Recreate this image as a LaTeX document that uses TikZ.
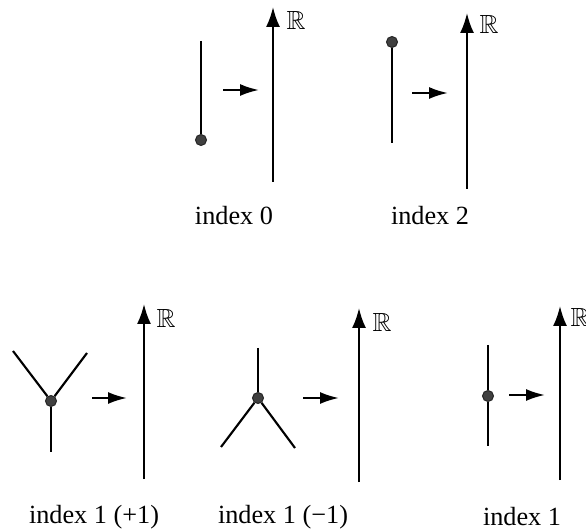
\documentclass[tikz,border=0pt]{standalone}
\usepackage{amsmath,amssymb}
\usepackage{fontspec}
\setmainfont{Liberation Serif}
\usetikzlibrary{arrows.meta, positioning}

\tikzset{
    seg/.style={line width=0.85pt},
    crit/.style={circle, draw=black!85, fill=black!75, line width=0.4pt, inner sep=0pt, minimum size=4.4pt},
    maparrow/.style={line width=0.85pt, -{Latex[length=7.6pt, width=4.8pt]}},
    realline/.style={line width=0.85pt, -{Latex[length=8pt, width=5.6pt]}},
    caption/.style={anchor=base},
}

\begin{document}
\begin{tikzpicture}[x=0.4pt, y=-0.4pt, font=\fontsize{10.5}{12}\selectfont]
    \useasboundingbox (0,0) rectangle (586,531);

    % index 0: minimum
    \coordinate (min top) at (201,41);
    \node (min crit) [crit] at (201,140) {};
    \draw[seg] (min top) -- (min crit);
    \coordinate (min from) at (223,90);
    \coordinate (min to) at (259,90);
    \draw[maparrow] (min from) -- (min to);
    \coordinate (min base) at (273,182);
    \coordinate (min tip) at (273,7);
    \draw[realline] (min base) -- (min tip);
    \node (min R) at (296,20) {$\mathbb{R}$};
    \node (min lab) [caption] at (234,225) {index 0};

    % index 2: maximum
    \node (max crit) [crit] at (392,42) {};
    \coordinate (max bot) at (392,143);
    \draw[seg] (max crit) -- (max bot);
    \coordinate (max from) at (412,93);
    \coordinate (max to) at (448,93);
    \draw[maparrow] (max from) -- (max to);
    \coordinate (max base) at (467,189);
    \coordinate (max tip) at (467,13);
    \draw[realline] (max base) -- (max tip);
    \node (max R) at (489,24) {$\mathbb{R}$};
    \node (max lab) [caption] at (430,225) {index 2};

    % index 1 (+1): merging
    \coordinate (plus ul) at (13,351);
    \coordinate (plus ur) at (87,353);
    \coordinate (plus bot) at (51,452);
    \node (plus crit) [crit] at (51,401) {};
    \draw[seg] (plus ul) -- (plus crit) -- (plus ur);
    \draw[seg] (plus crit) -- (plus bot);
    \coordinate (plus from) at (92,398);
    \coordinate (plus to) at (127,398);
    \draw[maparrow] (plus from) -- (plus to);
    \coordinate (plus base) at (144,479);
    \coordinate (plus tip) at (144,304);
    \draw[realline] (plus base) -- (plus tip);
    \node (plus R) at (166,318) {$\mathbb{R}$};
    \node (plus lab) [caption] at (94,523) {index 1 (+1)};

    % index 1 (-1): splitting
    \coordinate (minus top) at (258,348);
    \coordinate (minus ll) at (221,447);
    \coordinate (minus lr) at (295,448);
    \node (minus crit) [crit] at (258,398) {};
    \draw[seg] (minus ll) -- (minus crit) -- (minus lr);
    \draw[seg] (minus top) -- (minus crit);
    \coordinate (minus from) at (303,398);
    \coordinate (minus to) at (339,398);
    \draw[maparrow] (minus from) -- (minus to);
    \coordinate (minus base) at (359,482);
    \coordinate (minus tip) at (359,308);
    \draw[realline] (minus base) -- (minus tip);
    \node (minus R) at (382,322) {$\mathbb{R}$};
    \node (minus lab) [caption] at (283,523) {index 1 (−1)};

    % index 1: regular point of the graph
    \coordinate (reg top) at (488,345);
    \coordinate (reg bot) at (488,446);
    \node (reg crit) [crit] at (488,396) {};
    \draw[seg] (reg top) -- (reg crit) -- (reg bot);
    \coordinate (reg from) at (509,395);
    \coordinate (reg to) at (545,395);
    \draw[maparrow] (reg from) -- (reg to);
    \coordinate (reg base) at (560,480);
    \coordinate (reg tip) at (560,306);
    \draw[realline] (reg base) -- (reg tip);
    \node (reg R) at (580,317) {$\mathbb{R}$};
    \node (reg lab) [caption] at (522,525) {index 1};
\end{tikzpicture}
\end{document}
